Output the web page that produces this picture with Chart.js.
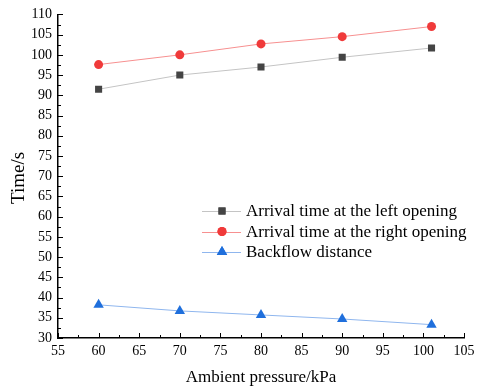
<!DOCTYPE html>
<html>
<head>
<meta charset="utf-8">
<script src="https://cdn.jsdelivr.net/npm/chart.js@4"></script>
<style>
  html, body { margin: 0; padding: 0; background: #fff; }
  #wrap { width: 480px; height: 388px; }
</style>
</head>
<body>
<div id="wrap"><canvas id="chart" width="480" height="388"></canvas></div>
<script>
const pressures = [60, 70, 80, 90, 101];
const leftArrival = [91.5, 95.0, 97.0, 99.4, 101.7];
const rightArrival = [97.6, 100.0, 102.7, 104.5, 107.0];
const backflow = [38.2, 36.7, 35.7, 34.7, 33.3];
const seriesNames = [
    'Arrival time at the left opening',
    'Arrival time at the right opening',
    'Backflow distance'
];
const xTitle = 'Ambient pressure/kPa';
const yTitle = 'Time/s';

const serif = '"Liberation Serif", "Times New Roman", serif';

function toPoints(ys) {
    return pressures.map((x, i) => ({ x, y: ys[i] }));
}

// inward ticks plus minor ticks, like the original plot
const axisTicks = {
    id: 'axisTicks',
    afterDraw(c) {
        const ctx = c.ctx;
        const xs = c.scales.x, ys = c.scales.y;
        const a = c.chartArea;
        ctx.save();
        ctx.strokeStyle = '#000';
        ctx.lineWidth = 1;
        ctx.beginPath();
        for (let v = 55; v <= 105; v += 2.5) {
            const px = Math.round(xs.getPixelForValue(v)) + 0.5;
            const len = (v % 5 === 0) ? 5 : 3;
            ctx.moveTo(px, a.bottom);
            ctx.lineTo(px, a.bottom - len);
        }
        for (let v = 30; v <= 110; v += 2.5) {
            const py = Math.round(ys.getPixelForValue(v)) + 0.5;
            const len = (v % 5 === 0) ? 5 : 3;
            ctx.moveTo(a.left, py);
            ctx.lineTo(a.left + len, py);
        }
        ctx.stroke();

        // axis titles
        ctx.fillStyle = '#000';
        ctx.textAlign = 'center';
        ctx.textBaseline = 'middle';
        ctx.font = '17px ' + serif;
        ctx.fillText(xTitle, 261, 378);
        ctx.translate(19, 178);
        ctx.rotate(-Math.PI / 2);
        ctx.font = '19px ' + serif;
        ctx.fillText(yTitle, 0, 0);
        ctx.restore();
    }
};

// legend with line through the marker
const lineLegend = {
    id: 'lineLegend',
    afterDraw(c) {
        const ctx = c.ctx;
        ctx.save();
        ctx.font = '17px ' + serif;
        ctx.textBaseline = 'middle';
        const x0 = 202, y0 = 211, step = 20.5;
        c.data.datasets.forEach((ds, i) => {
            const y = y0 + i * step;
            ctx.strokeStyle = ds.borderColor;
            ctx.lineWidth = 1;
            ctx.beginPath();
            ctx.moveTo(x0, Math.round(y) + 0.5);
            ctx.lineTo(x0 + 39, Math.round(y) + 0.5);
            ctx.stroke();
            ctx.fillStyle = ds.pointBackgroundColor;
            Chart.helpers.drawPoint(ctx, {
                pointStyle: ds.pointStyle,
                radius: ds.pointRadius,
                rotation: 0,
                borderWidth: 0
            }, x0 + 20, y);
            ctx.fill();
            ctx.fillStyle = '#000';
            ctx.fillText(seriesNames[i], x0 + 44, y + 1);
        });
        ctx.restore();
    }
};

const ctx = document.getElementById('chart').getContext('2d');
const chart = new Chart(ctx, {
    type: 'line',
    data: {
        datasets: [
            {
                label: seriesNames[0],
                data: toPoints(leftArrival),
                borderColor: '#c4c4c4',
                borderWidth: 1,
                pointStyle: 'rect',
                pointRadius: 5,
                pointBackgroundColor: '#444444',
                pointBorderWidth: 0,
                backgroundColor: '#444444'
            },
            {
                label: seriesNames[1],
                data: toPoints(rightArrival),
                borderColor: '#f79090',
                borderWidth: 1,
                pointStyle: 'circle',
                pointRadius: 4.5,
                pointBackgroundColor: '#f03a3a',
                pointBorderWidth: 0,
                backgroundColor: '#f03a3a'
            },
            {
                label: seriesNames[2],
                data: toPoints(backflow),
                borderColor: '#8fb6ee',
                borderWidth: 1,
                pointStyle: 'triangle',
                pointRadius: 6,
                pointBackgroundColor: '#1f6fdc',
                pointBorderWidth: 0,
                backgroundColor: '#1f6fdc'
            }
        ]
    },
    options: {
        responsive: false,
        animation: false,
        layout: { padding: { top: 12, right: 16, left: 0, bottom: 0 } },
        plugins: {
            legend: { display: false },
            tooltip: { enabled: false }
        },
        scales: {
            x: {
                type: 'linear',
                min: 55,
                max: 105,
                afterFit: s => { s.height = 50; },
                ticks: {
                    stepSize: 5,
                    color: '#000',
                    padding: 5,
                    font: { family: serif, size: 14 }
                },
                grid: { display: false, drawTicks: false },
                border: { display: true, color: '#000', width: 1.5 }
            },
            y: {
                min: 30,
                max: 110,
                afterFit: s => { s.width = 58; },
                ticks: {
                    stepSize: 5,
                    color: '#000',
                    padding: 6,
                    font: { family: serif, size: 14 }
                },
                grid: { display: false, drawTicks: false },
                border: { display: true, color: '#000', width: 1.5 }
            }
        }
    },
    plugins: [axisTicks, lineLegend]
});
</script>
</body>
</html>
